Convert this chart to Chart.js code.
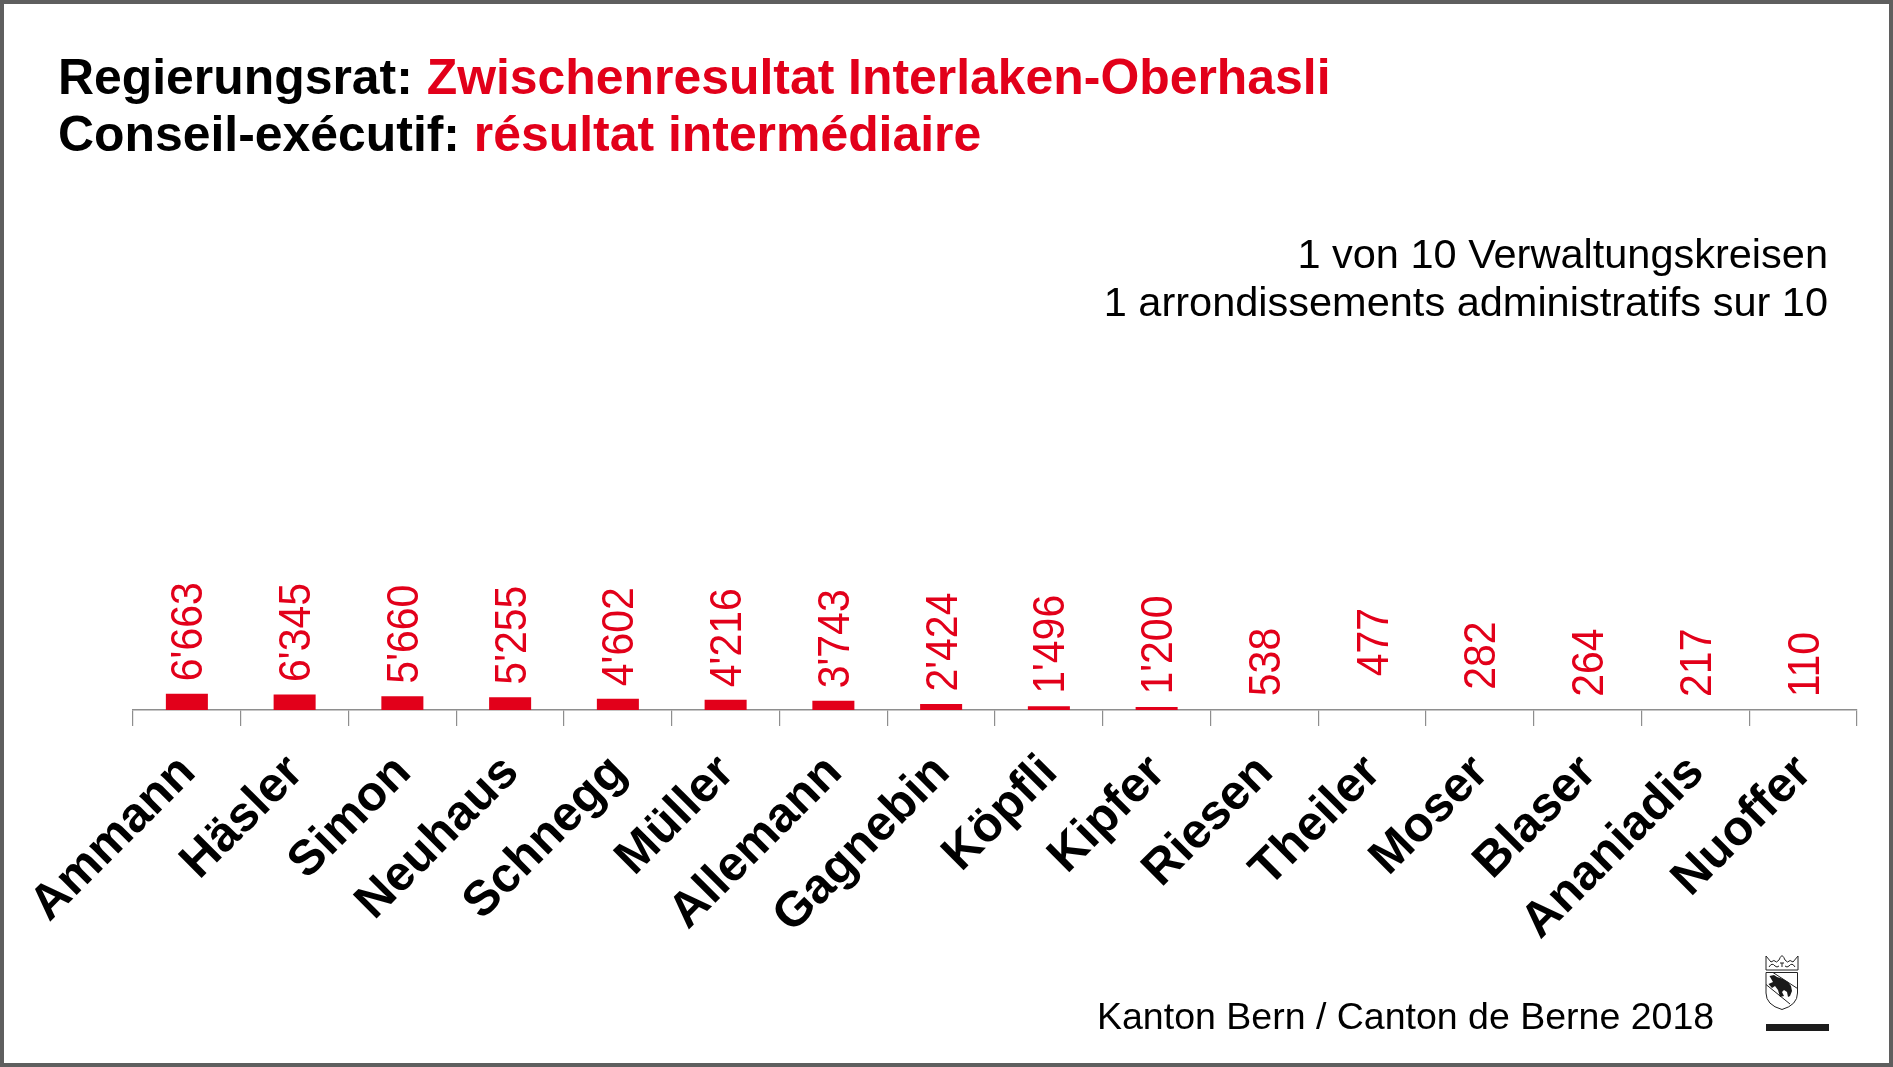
<!DOCTYPE html>
<html lang="de">
<head>
<meta charset="utf-8">
<title>Regierungsrat</title>
<script src="https://cdn.jsdelivr.net/npm/chart.js@4"></script>
<style>
html,body{margin:0;padding:0;background:#fff;overflow:hidden}
#page{position:relative;width:1893px;height:1067px;background:#fff;font-family:"Liberation Sans",Arial,sans-serif;overflow:hidden}
#frame{position:absolute;inset:0;box-sizing:border-box;border:4px solid #5f5f5f;pointer-events:none}
canvas{position:absolute;left:0;top:0}
.t{position:absolute;white-space:pre;line-height:1}
.title{left:58px;font-weight:bold;font-size:49.9px;color:#000}
.red{color:#e2001a}
.sub{right:65px;font-size:41.5px;color:#000;text-align:right}
#foot{left:1097px;top:998px;font-size:37.5px;color:#000}
#rule{position:absolute;left:1766px;top:1024px;width:63px;height:7px;background:#1c1c1c}
#crest{position:absolute;left:1765px;top:955px}
</style>
</head>
<body>
<div id="page">
<canvas id="c" width="1893" height="1067"></canvas>
<div class="t title" style="top:53px">Regierungsrat: <span class="red">Zwischenresultat Interlaken-Oberhasli</span></div>
<div class="t title" style="top:110px">Conseil-exécutif: <span class="red">résultat intermédiaire</span></div>
<div class="t sub" style="top:233px">1 von 10 Verwaltungskreisen</div>
<div class="t sub" style="top:281px">1 arrondissements administratifs sur 10</div>
<div class="t" id="foot">Kanton Bern / Canton de Berne 2018</div>
<svg id="crest" width="34" height="56" viewBox="0 0 34 56">
  <path d="M1 1 L6 7 Q9 4 11.500 7 L14 5 Q15 2 17 .5 Q19 2 20 5 L22.500 7 Q25 4 28 7 L33 1 V15 H1 Z" fill="#fff" stroke="#222" stroke-width="1"/>
  <path d="M4 12 q3-5 6-1 q2 2 4 0 M20 11 q2 2 4 0 q3-4 6 1 M15 8 h4 M17 8 v4" fill="none" stroke="#222" stroke-width="1"/>
  <path d="M1 17.500 H32.500 V38 Q32.500 50 17 54.500 Q1 50 1 38 Z" fill="#fff" stroke="#222" stroke-width="1"/>
  <path d="M8 17.500 L32.500 33.500 M1 29.500 L25 49" fill="none" stroke="#222" stroke-width="1"/>
  <path d="M4.500 21 L9 20 L12 22 L18 24 L23 27 L26 31 L27 36 L25 41 L23 42 L22 37 L19 35 L17 37 L19 41 L15 42 L13 35 L10 31 L7 33 L3.500 29 L8 27 Z" fill="#1a1a1a"/>
</svg>
<div id="rule"></div>
<div id="frame"></div>
</div>
<script>
const categories = ["Ammann","Häsler","Simon","Neuhaus","Schnegg","Müller","Allemann","Gagnebin","Köpfli","Kipfer","Riesen","Theiler","Moser","Blaser","Ananiadis","Nuoffer"];
const votes = [6663,6345,5660,5255,4602,4216,3743,2424,1496,1200,538,477,282,264,217,110];
const yMax = 250000;
const RED = "#e2001a", GREY = "#8e8e8e";
const hiddenBelow = 600;                       // bars this small vanish into the axis in the source
const raisedLabels = { Theiler: 20, Moser: 7 }; // hand-nudged value labels in the source
const fmt = v => String(v).replace(/\B(?=(\d{3})+$)/g, "'");

const valueLabels = {
  id: "valueLabels",
  afterDatasetsDraw(chart) {
    const ctx = chart.ctx, meta = chart.getDatasetMeta(0);
    ctx.save();
    ctx.fillStyle = RED;
    ctx.font = '41px "Liberation Sans", Arial, sans-serif';
    ctx.textAlign = "left";
    ctx.textBaseline = "middle";
    meta.data.forEach((bar, i) => {
      ctx.save();
      ctx.translate(bar.x + 3.5, bar.y - 12.5 - (raisedLabels[categories[i]] || 0));
      ctx.rotate(-Math.PI / 2);
      ctx.scale(1, 1.06);
      ctx.fillText(fmt(votes[i]), 0, 0);
      ctx.restore();
    });
    ctx.restore();
  }
};

new Chart(document.getElementById("c"), {
  type: "bar",
  data: { labels: categories, datasets: [{ data: votes,
    backgroundColor: c => c.raw < hiddenBelow ? "rgba(0,0,0,0)" : RED,
    borderWidth: 0, categoryPercentage: 1, barPercentage: 0.39 }] },
  options: {
    responsive: false,
    animation: false,
    devicePixelRatio: 1,
    layout: { padding: { left: 133, right: 36, top: 99, bottom: 0 } },
    plugins: { legend: { display: false }, title: { display: false }, tooltip: { enabled: false } },
    scales: {
      y: { display: false, min: 0, max: yMax },
      x: {
        offset: true,
        border: { color: GREY, width: 1.5 },
        grid: { offset: true, drawOnChartArea: false, drawTicks: true, tickLength: 16, color: GREY, lineWidth: 1.2 },
        ticks: { autoSkip: false, maxRotation: 45, minRotation: 45, padding: 18, labelOffset: 1, color: "#000",
                 font: { family: '"Liberation Sans", Arial, sans-serif', weight: "bold", size: 49 } },
        afterFit(s) { s.height = 1067 - 710; s.paddingLeft = 0; s.paddingRight = 0; s.paddingTop = 0; s.paddingBottom = 0; }
      }
    }
  },
  plugins: [valueLabels]
});
</script>
</body>
</html>
